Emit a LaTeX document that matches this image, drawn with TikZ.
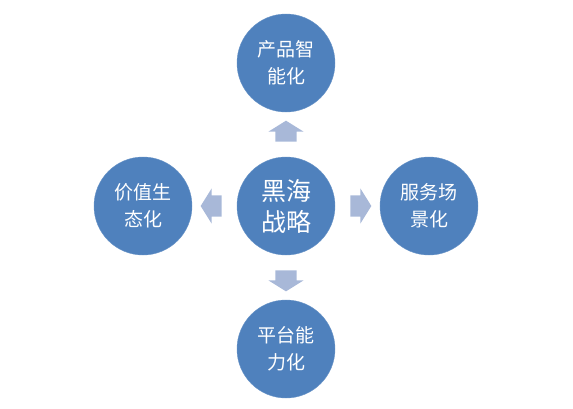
\documentclass[tikz,border=0pt]{standalone}
\usepackage{fontspec}
\newfontfamily\cjk{Noto Sans CJK SC}
\usetikzlibrary{shapes.arrows}
\definecolor{circblue}{RGB}{79,129,189}
\definecolor{arrblue}{RGB}{168,184,216}
\begin{document}
\begin{tikzpicture}[x=1pt,y=-1pt,
  bubble/.style={circle,fill=circblue,draw=circblue!85!white,minimum size=98pt,inner sep=0pt,
    text=white,align=center,font=\cjk\fontsize{19}{27}\selectfont},
  hub/.style={bubble,font=\cjk\fontsize{25}{31}\selectfont},
  blockarrow/.style={single arrow,fill=arrblue,draw=none,inner xsep=0pt,inner ysep=10.5pt,
    minimum height=21pt,single arrow head extend=7pt,single arrow tip angle=116}]
\useasboundingbox (0,0) rectangle (573,408);
\node (n0) at (286,206) [hub] {黑海\\战略};
\node (n1) at (286, 63) [bubble] {产品智\\能化};
\node (n2) at (429,206) [bubble] {服务场\\景化};
\node (n3) at (286,349) [bubble] {平台能\\力化};
\node (n4) at (143,206) [bubble] {价值生\\态化};
\path (n0) -- (n1) node [blockarrow,midway,rotate=90] {};
\path (n0) -- (n2) node [blockarrow,midway] {};
\path (n0) -- (n3) node [blockarrow,midway,rotate=-90] {};
\path (n0) -- (n4) node [blockarrow,midway,rotate=180] {};
\end{tikzpicture}
\end{document}
